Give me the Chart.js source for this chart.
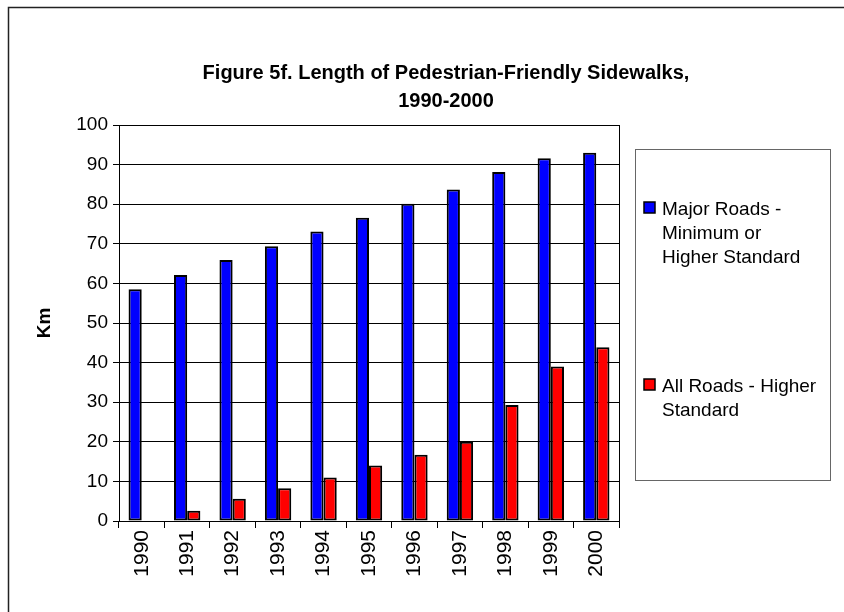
<!DOCTYPE html>
<html>
<head>
<meta charset="utf-8">
<script src="https://cdn.jsdelivr.net/npm/chart.js@4"></script>
<style>
  body { margin: 0; background: #fff; }
  canvas { display: block; }
</style>
</head>
<body>
<canvas id="sidewalks" width="844" height="612"></canvas>
<script>
const years = ["1990", "1991", "1992", "1993", "1994", "1995", "1996", "1997", "1998", "1999", "2000"];
const majorRoads = [58.5, 62.1, 65.9, 69.4, 73.1, 76.6, 80.1, 83.7, 88.1, 91.6, 93.0];
const allRoads = [0, 2.6, 5.6, 8.3, 11.0, 14.0, 16.7, 20.0, 29.3, 39.0, 43.9];
const kmMin = 0;
const kmMax = 100;
const kmStep = 10;

const titleLines = ["Figure 5f. Length of Pedestrian-Friendly Sidewalks,", "1990-2000"];
const majorLegend = ["Major Roads -", "Minimum or", "Higher Standard"];
const allLegend = ["All Roads - Higher", "Standard"];

const FONT = "Arial, 'Liberation Sans', sans-serif";

// frame, title, right edge of the plot and the boxed legend
const sheet = {
  id: "sheet",
  beforeDraw(chart) {
    const ctx = chart.ctx;
    ctx.save();
    ctx.fillStyle = "#fff";
    ctx.fillRect(0, 0, chart.width, chart.height);
    ctx.strokeStyle = "#222";
    ctx.lineWidth = 1.5;
    ctx.strokeRect(8.5, 7.5, chart.width + 20, chart.height + 20);
    ctx.restore();
  },
  afterDraw(chart) {
    const ctx = chart.ctx;
    const area = chart.chartArea;
    ctx.save();

    ctx.strokeStyle = "#000";
    ctx.lineWidth = 1;
    ctx.beginPath();
    ctx.moveTo(Math.round(area.right) + 0.5, area.top);
    ctx.lineTo(Math.round(area.right) + 0.5, area.bottom);
    ctx.stroke();

    ctx.fillStyle = "#000";
    ctx.font = "bold 20px " + FONT;
    ctx.textAlign = "center";
    ctx.textBaseline = "middle";
    titleLines.forEach((line, i) => ctx.fillText(line, 446, 73 + i * 28));

    // legend box
    const box = { left: 635.5, top: 149.5, right: 830.5, bottom: 480.5 };
    ctx.strokeStyle = "#666";
    ctx.lineWidth = 1;
    ctx.strokeRect(box.left, box.top, box.right - box.left, box.bottom - box.top);

    const items = [
      { lines: majorLegend, ds: chart.data.datasets[0], top: 202 },
      { lines: allLegend, ds: chart.data.datasets[1], top: 379 }
    ];
    ctx.font = "19px " + FONT;
    ctx.textAlign = "left";
    ctx.textBaseline = "alphabetic";
    items.forEach(item => {
      ctx.fillStyle = item.ds.backgroundColor;
      ctx.fillRect(644, item.top, 11, 11);
      ctx.strokeStyle = "#000";
      ctx.lineWidth = 1.5;
      ctx.strokeRect(644, item.top, 11, 11);
      ctx.fillStyle = "#000";
      item.lines.forEach((line, i) => ctx.fillText(line, 662, item.top + 13 + i * 24));
    });
    ctx.restore();
  }
};

new Chart(document.getElementById("sidewalks"), {
  type: "bar",
  data: {
    labels: years,
    datasets: [
      {
        label: majorLegend.join(" "),
        data: majorRoads,
        backgroundColor: "#0000ff",
        borderColor: "#000",
        borderWidth: 2,
        borderSkipped: false,
        categoryPercentage: 0.58,
        barPercentage: 1.0
      },
      {
        label: allLegend.join(" "),
        data: allRoads,
        backgroundColor: "#ff0000",
        borderColor: "#000",
        borderWidth: 2,
        borderSkipped: false,
        categoryPercentage: 0.58,
        barPercentage: 1.0
      }
    ]
  },
  options: {
    responsive: false,
    animation: false,
    layout: { padding: { left: 0, top: 125, right: 225, bottom: 21 } },
    plugins: {
      legend: { display: false },
      title: { display: false },
      tooltip: { enabled: false }
    },
    scales: {
      x: {
        grid: { drawOnChartArea: false, drawTicks: true, tickLength: 7, color: "#000" },
        border: { color: "#000", width: 1 },
        ticks: {
          color: "#000",
          font: { family: FONT, size: 21 },
          minRotation: 90,
          maxRotation: 90,
          padding: 2,
          autoSkip: false
        },
        afterFit(scale) { scale.height = 70; }
      },
      y: {
        min: kmMin,
        max: kmMax,
        grid: { color: "#000", lineWidth: 1, tickLength: 6 },
        border: { color: "#000", width: 1 },
        ticks: {
          stepSize: kmStep,
          color: "#000",
          font: { family: FONT, size: 19 },
          padding: 5
        },
        title: {
          display: true,
          text: "Km",
          color: "#000",
          font: { family: FONT, size: 19, weight: "bold" },
          padding: { top: 33, bottom: 0 }
        },
        afterFit(scale) { scale.width = 119; }
      }
    }
  },
  plugins: [sheet]
});
</script>
</body>
</html>
